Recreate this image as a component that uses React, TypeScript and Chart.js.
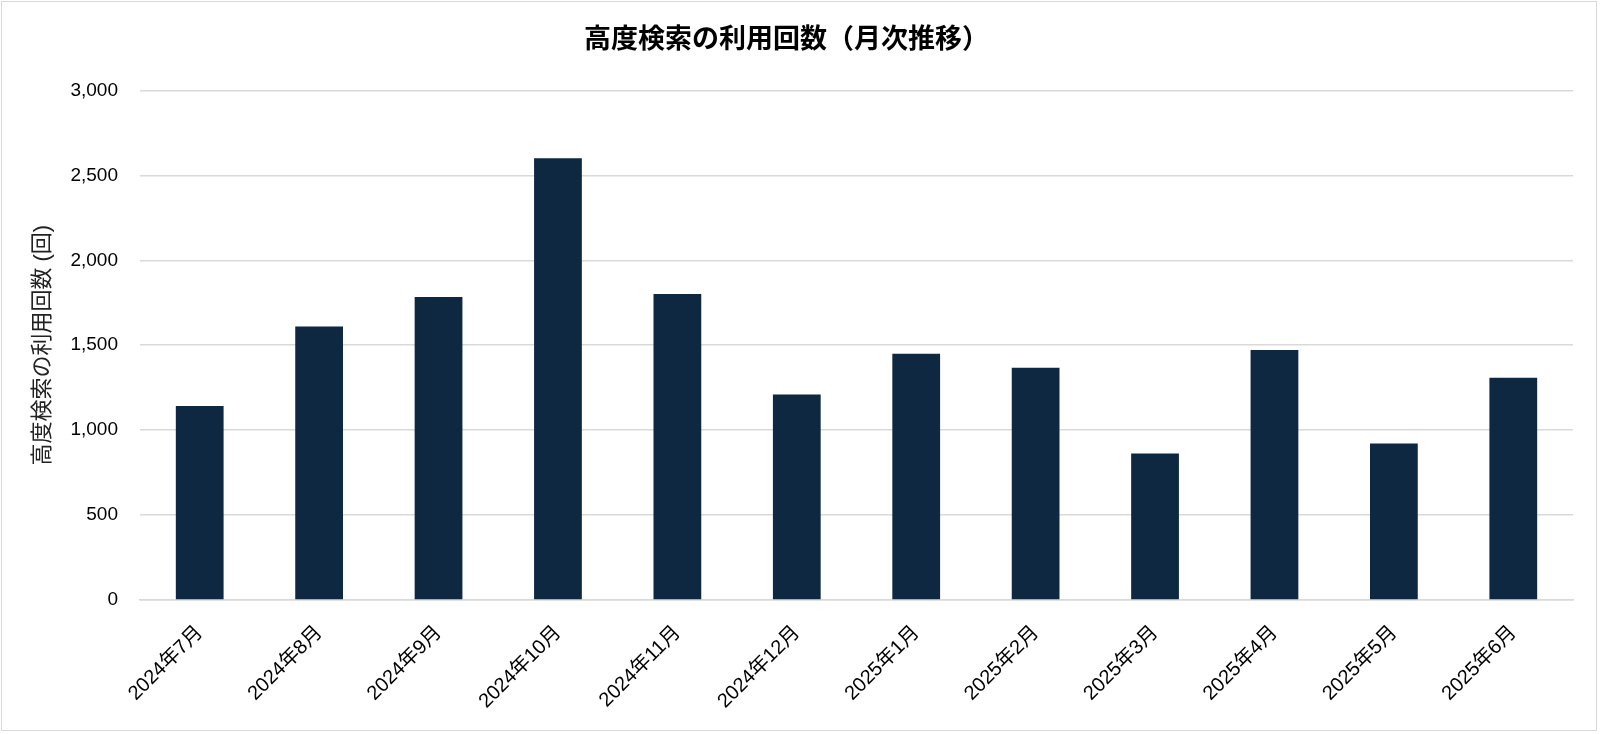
import { useEffect, useRef } from 'react';
import { Chart, registerables } from 'chart.js';

Chart.register(...registerables);

const months = [
  '2024年7月', '2024年8月', '2024年9月', '2024年10月', '2024年11月', '2024年12月',
  '2025年1月', '2025年2月', '2025年3月', '2025年4月', '2025年5月', '2025年6月',
];
const usageCounts = [1142, 1610, 1784, 2600, 1802, 1210, 1449, 1367, 862, 1472, 922, 1308];
const yTicks = [0, 500, 1000, 1500, 2000, 2500, 3000];

const chartTitle = '高度検索の利用回数（月次推移）';
const yAxisTitle = '高度検索の利用回数 (回)';

const FONT = '"Liberation Sans", "Noto Sans CJK JP", sans-serif';

const App = () => {
  const canvasRef = useRef<HTMLCanvasElement>(null);
  const chartRef = useRef<Chart | null>(null);

  useEffect(() => {
    document.body.style.margin = '0';
    if (!canvasRef.current) return;
    const ctx = canvasRef.current.getContext('2d');
    if (!ctx) return;

    if (chartRef.current) chartRef.current.destroy();

    chartRef.current = new Chart(ctx, {
      type: 'bar',
      data: {
        labels: months,
        datasets: [{
          label: yAxisTitle,
          data: usageCounts,
          backgroundColor: '#0E2841',
          barPercentage: 0.4,
          categoryPercentage: 1,
        }],
      },
      options: {
        animation: false,
        responsive: true,
        maintainAspectRatio: false,
        layout: { padding: { left: 0, right: 27, top: 0, bottom: 0 } },
        plugins: {
          legend: { display: false },
          tooltip: { enabled: false },
          title: {
            display: true,
            text: chartTitle,
            color: '#000',
            font: { family: FONT, size: 27, weight: 'bold' },
            padding: { top: 24, bottom: 34 },
          },
        },
        scales: {
          x: {
            type: 'category',
            grid: { display: false, drawTicks: false },
            border: { display: true, color: '#d9d9d9', width: 1.5 },
            ticks: {
              color: '#000',
              font: { family: FONT, size: 20 },
              maxRotation: 45,
              minRotation: 45,
              padding: 21,
              autoSkip: false,
            },
            afterFit: (scale: any) => { scale.height = 134; },
          },
          y: {
            min: 0,
            max: 3000,
            afterBuildTicks: (scale: any) => {
              scale.ticks = yTicks.map((v) => ({ value: v }));
            },
            grid: { color: '#d9d9d9', lineWidth: 1.5, drawTicks: false },
            border: { display: false },
            ticks: {
              color: '#000',
              font: { family: FONT, size: 19 },
              padding: 22,
              callback: (v: any) => Number(v).toLocaleString('en-US'),
            },
            title: {
              display: true,
              text: yAxisTitle,
              color: '#222',
              font: { family: FONT, size: 22 },
              padding: { top: 30, bottom: 0 },
            },
            afterFit: (scale: any) => { scale.width = 140; },
          },
        },
      },
    });

    return () => {
      if (chartRef.current) {
        chartRef.current.destroy();
        chartRef.current = null;
      }
    };
  }, []);

  return (
    <div style={{ position: 'relative', width: 1600, height: 734, background: '#fff' }}>
      <canvas ref={canvasRef}></canvas>
      <div
        style={{
          position: 'absolute',
          left: 1,
          top: 1,
          width: 1596,
          height: 730,
          boxSizing: 'border-box',
          border: '1px solid #d9d9d9',
          pointerEvents: 'none',
        }}
      />
    </div>
  );
};

export default App;
